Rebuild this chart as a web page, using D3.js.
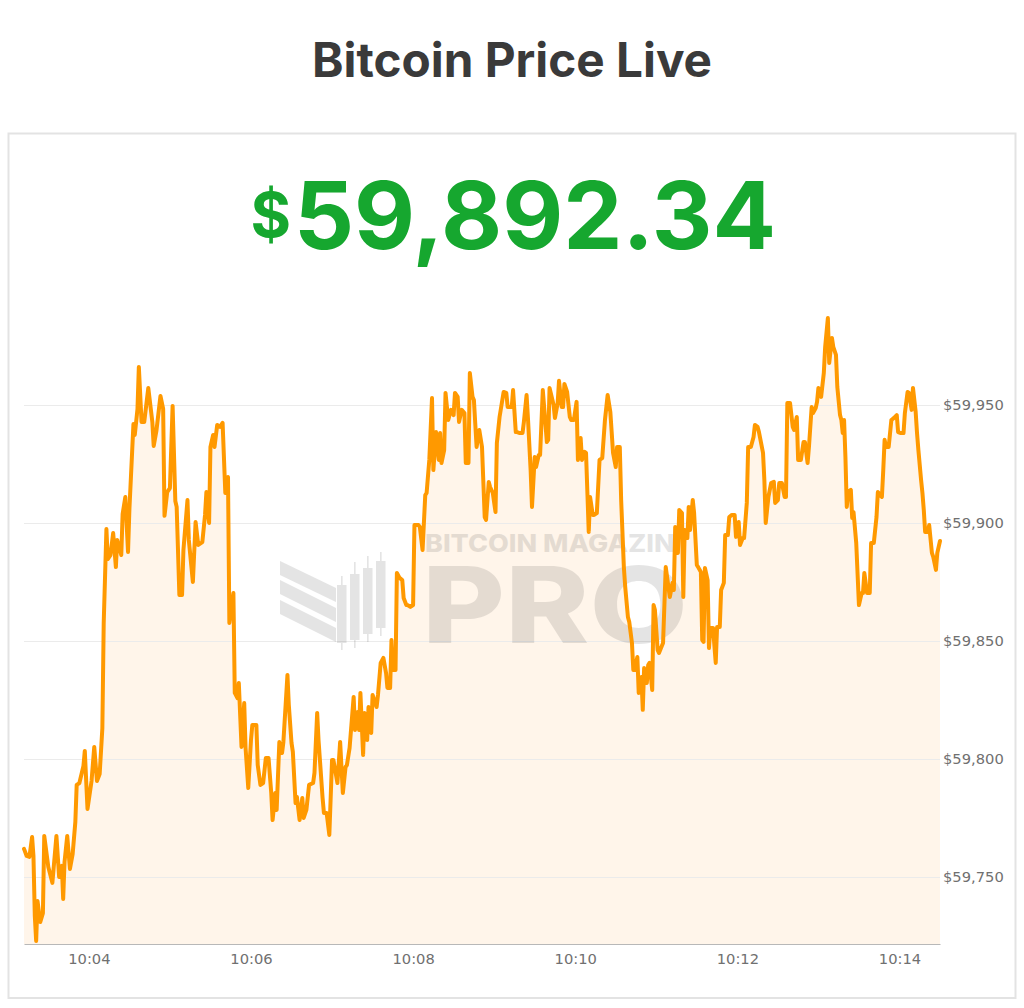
<!DOCTYPE html>
<html>
<head>
<meta charset="utf-8">
<script src="https://cdn.jsdelivr.net/npm/d3@7/dist/d3.min.js"></script>
<style>
  html, body { margin: 0; padding: 0; background: #ffffff; }
  svg { display: block; }
</style>
</head>
<body>
<svg id="chart" width="1024" height="1008"></svg>
<script>
// ---- DATA ----
const titleText = "Bitcoin Price Live";
const currentPrice = 59892.34;
// seconds after 10:00:00
const seconds = [
  192,194,196,198,199,200,201,202,204,206,
  207,210,213,216,218,220,221,222,224,226,
  228,230,231,233,236,237,239,242,244,246,
  248,250,251,253,254,256,258,260,261,264,
  265,267,269,270,273,274,276,277,279,281,
  284,287,288,290,293,295,296,298,300,302,
  304,305,307,309,310,313,314,317,319,321,
  324,326,327,329,330,332,333,335,337,339,
  341,343,344,347,348,350,351,353,355,356,
  358,360,361,364,365,367,369,371,373,375,
  376,378,379,381,383,384,387,388,390,391,
  393,394,396,398,399,401,403,406,407,409,
  410,413,414,416,418,420,421,424,426,428,
  430,431,433,436,437,439,440,441,443,444,
  446,447,449,450,453,454,456,458,460,461,
  463,464,465,467,468,470,472,473,475,476,
  478,480,481,484,485,487,489,490,492,494,
  495,497,499,500,501,503,504,506,508,510,
  511,513,514,516,518,519,521,522,524,525,
  527,529,531,533,534,536,537,539,541,542,
  544,547,549,550,553,554,556,557,559,561,
  562,564,565,567,568,570,571,573,574,576,
  577,579,580,581,584,585,587,588,590,591,
  592,594,596,597,599,601,602,604,605,607,
  608,610,611,613,614,616,618,620,622,624,
  626,628,630,631,633,634,636,637,639,640,
  642,643,644,646,647,649,650,651,653,654,
  655,657,658,659,661,662,665,667,668,670,
  672,673,674,676,677,679,680,681,683,684,
  685,687,688,690,691,693,694,695,696,698,
  699,700,702,704,705,707,708,710,711,713,
  714,716,718,719,721,722,724,725,727,728,
  730,732,733,735,736,739,740,741,743,745,
  747,748,750,751,753,755,756,757,759,761,
  762,764,765,767,769,770,772,773,775,776,
  778,779,780,782,784,785,787,788,790,791,
  793,794,796,797,798,799,800,801,802,804,
  805,806,808,810,812,813,814,816,818,819,
  821,823,824,827,828,829,830,832,834,836,
  838,839,841,843,844,846,847,849,850,852,
  853,854,856,857,858,859,861,862,864,865,
  867,868,870
];
const prices = [
  59761.9,59758.9,59758.5,59766.9,59758.9,59733.5,59722.9,59739.8,59730.9,59734.7,
  59767.4,59754.2,59747.5,59767.4,59750.0,59754.7,59740.7,59756.4,59767.4,59753.4,
  59759.7,59773.3,59789.0,59789.8,59797.0,59803.4,59778.8,59790.7,59805.1,59790.7,
  59793.6,59813.1,59857.6,59897.4,59884.7,59886.4,59895.7,59881.3,59892.8,59886.4,
  59903.8,59911.0,59887.7,59905.5,59941.9,59937.3,59948.3,59966.1,59942.8,59942.8,
  59957.2,59942.8,59932.6,59939.0,59953.8,59948.3,59903.0,59913.1,59914.8,59949.6,
  59909.3,59906.8,59869.5,59869.5,59888.5,59909.7,59892.8,59875.0,59900.4,59890.7,
  59891.9,59903.4,59913.1,59900.0,59932.2,59937.3,59932.2,59941.5,59940.7,59942.4,
  59912.7,59919.5,59857.6,59870.3,59828.0,59825.8,59832.2,59805.1,59823.7,59804.7,
  59787.7,59808.0,59814.4,59814.4,59797.4,59789.0,59789.8,59800.4,59800.4,59785.6,
  59774.1,59785.6,59778.4,59807.2,59802.5,59807.2,59835.6,59822.9,59806.8,59803.0,
  59781.3,59783.9,59774.1,59783.5,59775.0,59778.4,59789.0,59789.8,59794.1,59819.5,
  59808.0,59783.5,59777.1,59777.1,59767.8,59799.6,59799.6,59789.8,59807.2,59785.6,
  59796.6,59797.4,59804.7,59826.3,59812.3,59819.9,59812.3,59828.0,59801.7,59819.5,
  59808.0,59822.0,59811.0,59827.1,59822.0,59827.1,59840.7,59842.8,59836.4,59830.1,
  59830.1,59850.4,59837.7,59837.7,59878.8,59876.7,59875.8,59868.2,59865.2,59865.2,
  59864.4,59865.2,59899.1,59899.1,59898.3,59888.5,59911.8,59912.7,59926.7,59952.9,
  59922.4,59938.5,59926.7,59938.1,59925.4,59930.9,59955.1,59943.6,59947.9,59945.7,
  59955.1,59953.4,59942.8,59947.9,59946.6,59925.4,59925.4,59963.5,59953.4,59952.1,
  59932.2,59939.4,59932.2,59902.5,59901.3,59917.4,59915.2,59912.7,59904.6,59933.9,
  59944.9,59955.5,59955.1,59949.1,59949.1,59956.3,59938.5,59938.5,59938.1,59938.1,
  59942.8,59954.2,59944.5,59922.4,59906.8,59927.9,59923.7,59928.8,59928.8,59956.3,
  59949.1,59934.3,59935.2,59957.2,59950.0,59944.5,59950.8,59960.2,59949.1,59949.1,
  59958.9,59955.5,59944.9,59943.6,59943.6,59951.3,59926.7,59936.0,59926.7,59930.1,
  59929.7,59896.2,59911.0,59903.4,59903.4,59904.2,59926.7,59927.5,59943.6,59954.2,
  59947.0,59929.7,59923.7,59932.2,59932.2,59909.7,59881.3,59872.9,59860.2,59858.0,
  59849.1,59837.7,59837.7,59843.2,59828.0,59834.7,59820.8,59838.5,59832.2,59839.8,
  59840.7,59829.2,59865.2,59863.1,59846.2,59844.9,59849.1,59881.3,59877.1,59868.6,
  59874.6,59871.6,59898.3,59887.3,59905.5,59904.2,59868.6,59897.0,59893.6,59906.8,
  59897.0,59909.7,59904.2,59882.2,59881.3,59879.2,59850.4,59849.6,59880.9,59875.8,
  59847.0,59855.5,59855.5,59840.7,59855.9,59855.9,59871.6,59874.6,59894.9,59894.9,
  59902.5,59903.4,59903.4,59894.1,59900.4,59890.7,59893.6,59893.6,59908.5,59932.2,
  59932.2,59936.4,59941.5,59940.7,59938.5,59929.7,59918.2,59900.0,59911.0,59916.9,
  59917.4,59908.5,59909.7,59916.9,59916.9,59911.0,59911.0,59950.8,59950.8,59940.7,
  59939.4,59944.9,59926.7,59926.7,59934.3,59934.3,59925.4,59932.2,59949.1,59946.6,
  59948.7,59951.3,59957.2,59953.4,59963.5,59974.6,59986.8,59967.8,59978.4,59974.6,
  59971.2,59957.6,59945.7,59943.6,59938.1,59943.6,59927.9,59906.8,59913.1,59914.0,
  59902.1,59904.6,59891.5,59865.2,59870.3,59870.3,59878.8,59870.3,59870.3,59891.5,
  59891.5,59902.5,59913.1,59911.0,59922.4,59935.2,59932.2,59932.2,59943.6,59944.5,
  59945.7,59938.5,59938.1,59938.1,59946.6,59955.5,59955.1,59947.9,59957.2,59947.0,
  59938.1,59930.9,59918.2,59912.7,59905.5,59896.2,59896.2,59899.1,59887.3,59885.6,
  59880.1,59887.3,59892.34
];
const yTickValues = [59750, 59800, 59850, 59900, 59950];
const xTickLabels = ["10:04", "10:06", "10:08", "10:10", "10:12", "10:14"];
const yDomain = [59721.6, 59998.7];

// ---- BUILD ----
const base = new Date(2024, 0, 1, 10, 0, 0);
const toDate = s => new Date(base.getTime() + s * 1000);
const n = Math.min(seconds.length, prices.length);
const data = d3.range(n).map(i => ({ t: toDate(seconds[i]), p: prices[i] }));

const svg = d3.select("#chart");
const plotLeft = 24, plotRight = 940, plotTop = 290, plotBottom = 944;

const x = d3.scaleTime()
  .domain([toDate(seconds[0]), toDate(seconds[n - 1])])
  .range([plotLeft, plotRight]);
const y = d3.scaleLinear().domain(yDomain).range([plotBottom, plotTop]);

// Title
svg.append("text")
  .attr("x", 512).attr("y", 77)
  .attr("text-anchor", "middle")
  .attr("font-family", "Inter, 'Noto Sans', sans-serif")
  .attr("font-weight", 700)
  .attr("font-size", 47.7)
  .attr("fill", "#3a3a3a")
  .text(titleText);

// Card
svg.append("rect")
  .attr("x", 8.5).attr("y", 133.5)
  .attr("width", 1007).attr("height", 864.5)
  .attr("fill", "#ffffff")
  .attr("stroke", "#e3e3e3")
  .attr("stroke-width", 2);

// Price
const priceStr = d3.format(",.2f")(currentPrice);
svg.append("text")
  .attr("x", 291).attr("y", 237)
  .attr("text-anchor", "end")
  .attr("font-family", "Inter, 'Noto Sans', sans-serif")
  .attr("font-weight", 700)
  .attr("font-size", 62)
  .attr("fill", "#16a72f")
  .text("$");
svg.append("text")
  .attr("x", 294).attr("y", 249)
  .attr("font-family", "Inter, 'Noto Sans', sans-serif")
  .attr("font-weight", 700)
  .attr("font-size", 94)
  .attr("fill", "#16a72f")
  .text(priceStr);

// Area
const area = d3.area()
  .x(d => x(d.t))
  .y0(plotBottom)
  .y1(d => y(d.p));
svg.append("path")
  .datum(data)
  .attr("d", area)
  .attr("fill", "#fff5ea");

// Grid lines
svg.append("g")
  .selectAll("line")
  .data(yTickValues)
  .join("line")
  .attr("x1", plotLeft).attr("x2", plotRight)
  .attr("y1", d => Math.round(y(d)) + 0.5)
  .attr("y2", d => Math.round(y(d)) + 0.5)
  .attr("stroke", "#ebebeb")
  .attr("stroke-width", 1);

// Watermark
const defs = svg.append("defs");
defs.append("clipPath").attr("id", "wmclip")
  .append("rect").attr("x", 270).attr("y", 520).attr("width", 406).attr("height", 40);
const wm = svg.append("g").attr("opacity", 0.1).attr("fill", "#000");
[[561, 575, 588, 602], [580, 594, 608, 622], [600, 614, 628, 642]].forEach(s => {
  wm.append("path")
    .attr("d", `M280,${s[0]} L336,${s[2]} L336,${s[3]} L280,${s[1]} Z`);
});
[[337, 585, 643, 576, 650], [350, 574, 640, 562, 648], [363, 568, 634, 556, 642], [376, 561, 628, 552, 636]]
  .forEach(c => {
    wm.append("rect").attr("x", c[0] + 4).attr("y", c[3]).attr("width", 1.6).attr("height", c[4] - c[3]);
    wm.append("rect").attr("x", c[0]).attr("y", c[1]).attr("width", 9.5).attr("height", c[2] - c[1]);
  });
wm.append("text")
  .attr("clip-path", "url(#wmclip)")
  .attr("x", 425).attr("y", 552)
  .attr("font-family", "Inter, 'Noto Sans', sans-serif")
  .attr("font-weight", 800)
  .attr("font-size", 24)
  .attr("textLength", 266)
  .attr("lengthAdjust", "spacingAndGlyphs")
  .text("BITCOIN MAGAZINE");
wm.append("text")
  .attr("x", 422).attr("y", 643)
  .attr("font-family", "Inter, 'Noto Sans', sans-serif")
  .attr("font-weight", 800)
  .attr("font-size", 106)
  .attr("textLength", 266)
  .attr("lengthAdjust", "spacingAndGlyphs")
  .text("PRO");

// X axis
const xTicks = xTickLabels.map(l => {
  const [h, m] = l.split(":").map(Number);
  return new Date(2024, 0, 1, h, m, 0);
});
const xAxis = d3.axisBottom(x)
  .tickValues(xTicks)
  .tickFormat(d3.timeFormat("%H:%M"))
  .tickSize(0)
  .tickPadding(10);
const gx = svg.append("g").attr("transform", `translate(0,${plotBottom})`).call(xAxis);
gx.select(".domain").attr("stroke", "#b8b8b8").attr("stroke-width", 1.2);
gx.selectAll("text")
  .attr("font-family", "'DejaVu Sans', sans-serif")
  .attr("font-size", 14.7)
  .attr("fill", "#707070");

// Y axis
const yAxis = d3.axisRight(y)
  .tickValues(yTickValues)
  .tickFormat(d => "$" + d3.format(",")(d))
  .tickSize(0)
  .tickPadding(3);
const gy = svg.append("g").attr("transform", `translate(${plotRight},0)`).call(yAxis);
gy.select(".domain").remove();
gy.selectAll("text")
  .attr("font-family", "'DejaVu Sans', sans-serif")
  .attr("font-size", 14.7)
  .attr("fill", "#707070");

// Line
const line = d3.line()
  .x(d => x(d.t))
  .y(d => y(d.p));
svg.append("path")
  .datum(data)
  .attr("d", line)
  .attr("fill", "none")
  .attr("stroke", "#ff9900")
  .attr("stroke-width", 4)
  .attr("stroke-linejoin", "round")
  .attr("stroke-linecap", "round");
</script>
</body>
</html>
